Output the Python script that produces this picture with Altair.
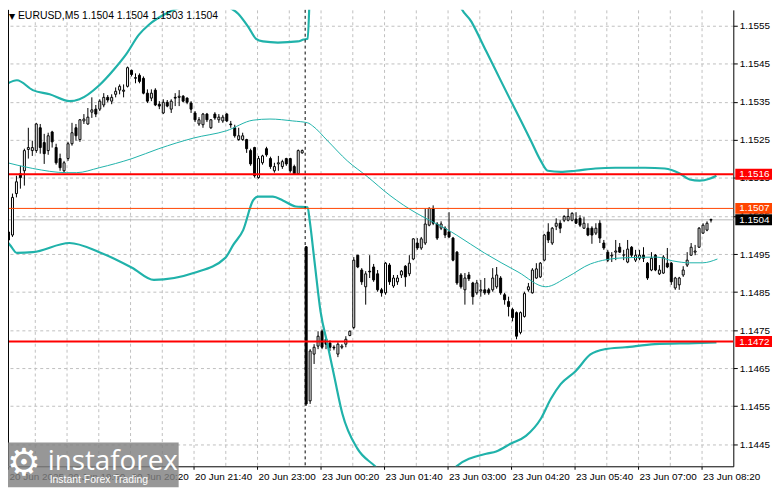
import altair as alt
import pandas as pd

# ---------------- data (EURUSD M5, bar 0 = 20 Jun 17:40) ----------------
opens = [1.15008, 1.15008, 1.15000, 1.15109, 1.15161, 1.15169, 1.15225, 1.15222, 1.15222, 1.15282,
         1.15243, 1.15222, 1.15271, 1.15230, 1.15201, 1.15169, 1.15201, 1.15240, 1.15282, 1.15251,
         1.15300, 1.15292, 1.15323, 1.15331, 1.15331, 1.15342, 1.15362, 1.15352, 1.15370, 1.15381,
         1.15378, 1.15391, 1.15433, 1.15412, 1.15420, 1.15412, 1.15373, 1.15360, 1.15381, 1.15344,
         1.15321, 1.15349, 1.15331, 1.15362, 1.15362, 1.15365, 1.15360, 1.15347, 1.15321, 1.15292,
         1.15290, 1.15318, 1.15282, 1.15318, 1.15303, 1.15300, 1.15318, 1.15292, 1.15282, 1.15251,
         1.15251, 1.15251, 1.15222, 1.15230, 1.15151, 1.15190, 1.15227, 1.15201, 1.15169, 1.15187,
         1.15180, 1.15201, 1.15201, 1.15180, 1.15161, 1.15216,
         1.14969, 1.14564, 1.14687, 1.14708, 1.14747, 1.14726, 1.14716, 1.14705, 1.14687, 1.14705,
         1.14713, 1.14736, 1.14757, 1.14947, 1.14908, 1.14864, 1.14905, 1.14916, 1.14898, 1.14856,
         1.14848, 1.14921, 1.14866, 1.14877, 1.14895, 1.14918, 1.14898, 1.14937, 1.14979, 1.14966,
         1.14979, 1.15026, 1.15070, 1.15029, 1.15018, 1.15018, 1.15008, 1.14992, 1.14955, 1.14895,
         1.14856, 1.14895, 1.14874, 1.14848, 1.14853, 1.14856, 1.14856, 1.14856, 1.14864, 1.14887,
         1.14843, 1.14825, 1.14804, 1.14796, 1.14744, 1.14786, 1.14856, 1.14848, 1.14887, 1.14890,
         1.14934, 1.15008, 1.14979, 1.15023, 1.15031, 1.15039, 1.15039, 1.15039, 1.15042, 1.15044,
         1.15018, 1.15018, 1.15018, 1.15005, 1.15031, 1.14979, 1.14955, 1.14945, 1.14955, 1.14968,
         1.14947, 1.14929, 1.14968, 1.14934, 1.14939, 1.14947, 1.14926, 1.14908, 1.14947, 1.14898,
         1.14900, 1.14926, 1.14926, 1.14861, 1.14869, 1.14895, 1.14921, 1.14947, 1.14955, 1.14968,
         1.15005, 1.15013, 1.15039]

highs = [1.15029, 1.15013, 1.15109, 1.15156, 1.15182, 1.15227, 1.15282, 1.15248, 1.15295, 1.15292,
         1.15266, 1.15269, 1.15274, 1.15240, 1.15214, 1.15195, 1.15245, 1.15295, 1.15292, 1.15305,
         1.15318, 1.15334, 1.15362, 1.15342, 1.15357, 1.15373, 1.15368, 1.15370, 1.15388, 1.15396,
         1.15396, 1.15443, 1.15435, 1.15425, 1.15425, 1.15417, 1.15383, 1.15383, 1.15386, 1.15352,
         1.15357, 1.15355, 1.15357, 1.15373, 1.15381, 1.15368, 1.15362, 1.15352, 1.15326, 1.15310,
         1.15321, 1.15321, 1.15305, 1.15323, 1.15318, 1.15316, 1.15321, 1.15300, 1.15290, 1.15282,
         1.15269, 1.15253, 1.15227, 1.15232, 1.15208, 1.15211, 1.15232, 1.15206, 1.15190, 1.15208,
         1.15198, 1.15203, 1.15203, 1.15185, 1.15225, 1.15225,
         1.14971, 1.14700, 1.14713, 1.14747, 1.14752, 1.14731, 1.14723, 1.14710, 1.14718, 1.14713,
         1.14734, 1.14749, 1.14942, 1.14947, 1.14913, 1.14905, 1.14947, 1.14924, 1.14908, 1.14861,
         1.14929, 1.14926, 1.14895, 1.14895, 1.14908, 1.14921, 1.14947, 1.14992, 1.14992, 1.14995,
         1.15070, 1.15073, 1.15078, 1.15034, 1.15036, 1.15023, 1.15060, 1.14995, 1.14958, 1.14900,
         1.14900, 1.14903, 1.14877, 1.14882, 1.14882, 1.14887, 1.14861, 1.14913, 1.14916, 1.14892,
         1.14848, 1.14838, 1.14809, 1.14799, 1.14799, 1.14851, 1.14874, 1.14913, 1.14926, 1.14929,
         1.15003, 1.15031, 1.15021, 1.15044, 1.15039, 1.15052, 1.15070, 1.15060, 1.15060, 1.15052,
         1.15047, 1.15031, 1.15023, 1.15031, 1.15039, 1.14987, 1.14961, 1.14955, 1.14987, 1.14979,
         1.14961, 1.14987, 1.14971, 1.14961, 1.14961, 1.14968, 1.14929, 1.14955, 1.14950, 1.14921,
         1.14947, 1.14966, 1.14929, 1.14890, 1.14890, 1.14918, 1.14955, 1.14979, 1.14974, 1.15021,
         1.15031, 1.15036, 1.15043]

lows = [1.14992, 1.14955, 1.14995, 1.15099, 1.15122, 1.15130, 1.15201, 1.15208, 1.15216, 1.15214,
        1.15187, 1.15211, 1.15230, 1.15185, 1.15169, 1.15164, 1.15195, 1.15235, 1.15248, 1.15245,
        1.15292, 1.15290, 1.15308, 1.15310, 1.15326, 1.15336, 1.15349, 1.15344, 1.15362, 1.15370,
        1.15362, 1.15388, 1.15417, 1.15399, 1.15399, 1.15370, 1.15347, 1.15352, 1.15339, 1.15331,
        1.15318, 1.15336, 1.15321, 1.15339, 1.15339, 1.15349, 1.15344, 1.15321, 1.15297, 1.15287,
        1.15282, 1.15297, 1.15279, 1.15303, 1.15295, 1.15295, 1.15297, 1.15282, 1.15256, 1.15248,
        1.15248, 1.15216, 1.15182, 1.15151, 1.15148, 1.15185, 1.15206, 1.15174, 1.15164, 1.15169,
        1.15174, 1.15182, 1.15164, 1.15159, 1.15159, 1.15214,
        1.14551, 1.14556, 1.14661, 1.14700, 1.14700, 1.14700, 1.14695, 1.14697, 1.14679, 1.14700,
        1.14705, 1.14734, 1.14752, 1.14913, 1.14869, 1.14817, 1.14887, 1.14877, 1.14851, 1.14838,
        1.14843, 1.14869, 1.14861, 1.14869, 1.14887, 1.14864, 1.14892, 1.14934, 1.14961, 1.14961,
        1.14974, 1.15023, 1.15026, 1.14987, 1.15013, 1.14992, 1.14992, 1.14931, 1.14869, 1.14859,
        1.14817, 1.14879, 1.14817, 1.14843, 1.14838, 1.14843, 1.14843, 1.14851, 1.14859, 1.14843,
        1.14817, 1.14786, 1.14773, 1.14726, 1.14739, 1.14783, 1.14851, 1.14846, 1.14885, 1.14887,
        1.14931, 1.14979, 1.14974, 1.15013, 1.15005, 1.15034, 1.15036, 1.15036, 1.15029, 1.15021,
        1.15016, 1.14997, 1.14977, 1.15000, 1.14979, 1.14961, 1.14929, 1.14929, 1.14934, 1.14953,
        1.14934, 1.14926, 1.14942, 1.14929, 1.14934, 1.14929, 1.14882, 1.14905, 1.14905, 1.14895,
        1.14898, 1.14913, 1.14869, 1.14856, 1.14856, 1.14890, 1.14916, 1.14945, 1.14947, 1.14966,
        1.15003, 1.15010, 1.15033]

closes = [1.14995, 1.14987, 1.15099, 1.15140, 1.15151, 1.15222, 1.15230, 1.15230, 1.15292, 1.15230,
          1.15214, 1.15261, 1.15245, 1.15190, 1.15177, 1.15190, 1.15240, 1.15269, 1.15261, 1.15303,
          1.15305, 1.15310, 1.15329, 1.15318, 1.15352, 1.15362, 1.15355, 1.15362, 1.15378, 1.15391,
          1.15381, 1.15440, 1.15422, 1.15414, 1.15404, 1.15373, 1.15352, 1.15373, 1.15342, 1.15339,
          1.15349, 1.15339, 1.15352, 1.15360, 1.15365, 1.15352, 1.15349, 1.15331, 1.15303, 1.15303,
          1.15318, 1.15303, 1.15303, 1.15308, 1.15310, 1.15310, 1.15300, 1.15290, 1.15261, 1.15261,
          1.15261, 1.15227, 1.15187, 1.15156, 1.15201, 1.15208, 1.15211, 1.15180, 1.15180, 1.15190,
          1.15193, 1.15187, 1.15169, 1.15161, 1.15222, 1.15222,
          1.14556, 1.14695, 1.14705, 1.14734, 1.14705, 1.14713, 1.14705, 1.14703, 1.14713, 1.14708,
          1.14726, 1.14747, 1.14934, 1.14916, 1.14877, 1.14898, 1.14903, 1.14882, 1.14856, 1.14848,
          1.14926, 1.14877, 1.14887, 1.14887, 1.14905, 1.14890, 1.14926, 1.14990, 1.14966, 1.14990,
          1.15029, 1.15070, 1.15031, 1.14992, 1.15029, 1.15000, 1.14995, 1.14934, 1.14874, 1.14864,
          1.14887, 1.14885, 1.14838, 1.14874, 1.14856, 1.14848, 1.14848, 1.14887, 1.14895, 1.14848,
          1.14830, 1.14812, 1.14783, 1.14734, 1.14796, 1.14846, 1.14864, 1.14908, 1.14911, 1.14926,
          1.15000, 1.14987, 1.15018, 1.15031, 1.15018, 1.15049, 1.15049, 1.15057, 1.15031, 1.15026,
          1.15031, 1.15000, 1.15000, 1.15018, 1.14992, 1.14966, 1.14934, 1.14947, 1.14958, 1.14955,
          1.14948, 1.14963, 1.14947, 1.14947, 1.14947, 1.14939, 1.14887, 1.14939, 1.14908, 1.14908,
          1.14942, 1.14916, 1.14877, 1.14887, 1.14887, 1.14908, 1.14934, 1.14968, 1.14958, 1.15018,
          1.15026, 1.15031, 1.15041]

# Bollinger bands (bar position, price)
upper_idx = [-0.25, 3.25, 7.25, 11.5, 16.5, 19, 24, 27.75, 30.75, 34, 36.5, 40.25, 44, 47.75, 50.25,
             52.75, 56, 59, 61.5, 63.5, 65.25, 69, 74, 75.5, 76.5, 77.25, 80, 95, 110, 114.5, 117.75,
             121.5, 125.25, 129, 132.75, 135.25, 137, 140.25, 144, 149, 154, 161.5, 166.5, 170.25,
             172.75, 175.25, 177.75, 179.5]
upper_val = [1.15391, 1.15407, 1.15381, 1.15370, 1.15352, 1.15357, 1.15394, 1.15436, 1.15475, 1.15527,
             1.15553, 1.15579, 1.15597, 1.15608, 1.15626, 1.15652, 1.15605, 1.15582, 1.15548, 1.15516,
             1.15509, 1.15506, 1.15509, 1.15514, 1.15516, 1.15690, 1.15900, 1.16000, 1.15850, 1.15613,
             1.15561, 1.15483, 1.15404, 1.15326, 1.15248, 1.15195, 1.15169, 1.15166, 1.15169, 1.15175,
             1.15177, 1.15177, 1.15175, 1.15162, 1.15146, 1.15143, 1.15148, 1.15156]

middle_idx = [-0.25, 7.25, 15.75, 18.25, 24, 32.25, 39, 47.75, 56, 62.75, 67, 72.75, 76.5, 77.75, 81.5,
              86.5, 91.5, 97.25, 104, 105.75, 112.75, 114, 121, 129.5, 136.5, 142, 147.75, 156, 164.5,
              168.5, 172.75, 176, 179.75]
middle_val = [1.15193, 1.15175, 1.15164, 1.15164, 1.15177, 1.15201, 1.15227, 1.15255, 1.15274, 1.15302,
              1.15305, 1.15300, 1.15295, 1.15287, 1.15248, 1.15195, 1.15154, 1.15104, 1.15057, 1.15047,
              1.15008, 1.15000, 1.14953, 1.14903, 1.14864, 1.14890, 1.14924, 1.14940, 1.14942, 1.14932,
              1.14927, 1.14927, 1.14937]

lower_idx = [-0.25, 1.5, 3.25, 7.25, 16.5, 24, 32.25, 37.75, 47.75, 55.75, 57.75, 60.25, 62.75, 64,
             67.75, 70.25, 73.5, 76.5, 77, 78.25, 79.75, 81.5, 83.25, 85.25, 89, 93.5, 99, 106.5,
             112.75, 114, 121.5, 124, 127.75, 131.5, 135.25, 137.75, 140.25, 144, 147.75, 151.5,
             156.5, 164, 174, 179.5]
lower_val = [1.14994, 1.14974, 1.14953, 1.14955, 1.14979, 1.14955, 1.14914, 1.14882, 1.14900, 1.14940,
             1.14974, 1.15013, 1.15091, 1.15101, 1.15101, 1.15091, 1.15075, 1.15073, 1.15039, 1.14929,
             1.14799, 1.14713, 1.14626, 1.14530, 1.14439, 1.14392, 1.14334, 1.14321, 1.14360, 1.14392,
             1.14425, 1.14431, 1.14452, 1.14472, 1.14517, 1.14569, 1.14608, 1.14642, 1.14686, 1.14700,
             1.14705, 1.14713, 1.14716, 1.14718]

time_labels = ["20 Jun 2025", "20 Jun 19:00", "20 Jun 20:20", "20 Jun 21:40", "20 Jun 23:00",
               "23 Jun 00:20", "23 Jun 01:40", "23 Jun 03:00", "23 Jun 04:20", "23 Jun 05:40",
               "23 Jun 07:00", "23 Jun 08:20"]
price_ticks = [1.1445, 1.1455, 1.1465, 1.1475, 1.1485, 1.1495, 1.1505, 1.1515, 1.1525, 1.1535,
               1.1545, 1.1555]

level_prices = [1.1516, 1.1507, 1.1472]
level_colors = ["#ff0000", "#ff4500", "#ff0000"]
level_widths = [2, 1, 2]
last_price = 1.1504
box_prices = [1.1516, 1.1507, 1.1504, 1.1472]
box_colors = ["#ff0000", "#ff4500", "#000000", "#ff0000"]
separator_bar = 75.875
header_text = "EURUSD,M5  1.1504 1.1504 1.1503 1.1504"

# ---------------- chart ----------------
FONT = "Liberation Sans"
TEAL = "#20b2aa"
GRID = "#c0c0c0"
PLOT_W, PLOT_H = 731, 460

n = min(len(opens), len(highs), len(lows), len(closes))
candles = pd.DataFrame({"bar": list(range(n)), "open": opens[:n], "high": highs[:n],
                        "low": lows[:n], "close": closes[:n]})
candles["x_lo"] = candles["bar"] - 0.125
candles["x_hi"] = candles["bar"] + 0.375
candles["x_mid"] = candles["bar"] + 0.125

bands = pd.concat([
    pd.DataFrame({"bar": upper_idx, "v": upper_val, "band": "upper"}),
    pd.DataFrame({"bar": lower_idx, "v": lower_val, "band": "lower"}),
], ignore_index=True)
mid = pd.DataFrame({"bar": middle_idx, "v": middle_val})

xscale = alt.Scale(domain=[1.0, 183.75], nice=False, zero=False)
yscale = alt.Scale(domain=[1.14392, 1.15592], nice=False, zero=False)

grid_vals = [1.0] + [8 * k - 0.25 for k in range(1, 23)]
lab_arr = [time_labels[k // 2] if k % 2 == 0 else "" for k in range(23)]
label_expr = "[" + ",".join("'" + s + "'" for s in lab_arr) + "][round((datum.value + 0.25) / 8)]"

xaxis = alt.Axis(values=grid_vals, labelExpr=label_expr, title=None, grid=True, gridColor=GRID,
                 gridDash=[3, 3], gridWidth=1, domainColor="black", domainWidth=1,
                 tickColor="black", tickSize=3,
                 tickOpacity={"condition": {"test": "round((datum.value + 0.25) / 8) % 2 == 0",
                                            "value": 1}, "value": 0},
                 labelFont=FONT, labelFontSize=10, labelColor="black", labelAlign="left",
                 labelBaseline="top", labelPadding=2, labelOffset=1, labelOverlap=False,
                 labelFlush=False, labelBound=False, zindex=0)
yaxis = alt.Axis(values=price_ticks, format=".4f", orient="right", title=None, grid=True,
                 gridColor=GRID, gridDash=[3, 3], gridWidth=1, domainColor="black",
                 tickColor="black", tickSize=4, labelFont=FONT, labelFontSize=10,
                 labelColor="black", labelPadding=2, labelOverlap=False, labelFlush=False,
                 labelBound=False, zindex=0)


def X(f):
    return alt.X(f, type="quantitative", scale=xscale, axis=xaxis)


def Y(f):
    return alt.Y(f, type="quantitative", scale=yscale, axis=yaxis)


one = pd.DataFrame({"a": [0]})

price_line = alt.Chart(pd.DataFrame({"p": [last_price]})).mark_rule(
    color="#b8b8b8", strokeWidth=1).encode(y=Y("p"))

wicks = alt.Chart(candles).mark_rule(color="black", strokeWidth=1, clip=True).encode(
    x=X("x_mid"), y=Y("low"), y2="high")

bodies = alt.Chart(candles).mark_rect(stroke="black", strokeWidth=1, clip=True).encode(
    x=X("x_lo"), x2="x_hi", y=Y("open"), y2="close",
    fill=alt.condition("datum.close >= datum.open", alt.value("white"), alt.value("black")))

outer = alt.Chart(bands).mark_line(color=TEAL, strokeWidth=2.2, clip=True,
                                   interpolate="monotone").encode(
    x=X("bar"), y=Y("v"), detail="band:N")

middle = alt.Chart(mid).mark_line(color=TEAL, strokeWidth=1, clip=True,
                                  interpolate="monotone").encode(x=X("bar"), y=Y("v"))

separator = alt.Chart(pd.DataFrame({"s": [separator_bar]})).mark_rule(
    color="black", strokeWidth=1, strokeDash=[3, 3]).encode(x=X("s"))

levels = alt.Chart(pd.DataFrame({"p": level_prices, "col": level_colors,
                                 "w": level_widths})).mark_rule().encode(
    y=Y("p"), color=alt.Color("col:N", scale=None),
    strokeWidth=alt.StrokeWidth("w:Q", scale=None))

left_border = alt.Chart(one).mark_rule(color="black", strokeWidth=1).encode(
    x=alt.value(0.5), y=alt.value(0), y2=alt.value(PLOT_H))

box_df = pd.DataFrame({"p": box_prices, "col": box_colors,
                       "lab": ["%.4f" % v for v in box_prices]})
boxes = alt.Chart(box_df).mark_rect(yOffset=-5.5, y2Offset=5.5).encode(
    x=alt.value(PLOT_W + 2), x2=alt.value(PLOT_W + 39), y=Y("p"), y2="p",
    fill=alt.Color("col:N", scale=None))
box_text = alt.Chart(box_df).mark_text(align="left", baseline="middle", color="white",
                                       font=FONT, fontSize=10).encode(
    x=alt.value(PLOT_W + 6), y=Y("p"), text="lab:N")

tri = alt.Chart(one).mark_text(text="▼", font="DejaVu Sans", fontSize=8, color="black",
                               align="left", baseline="alphabetic").encode(
    x=alt.value(1), y=alt.value(9))
header = alt.Chart(one).mark_text(text=header_text, font=FONT, fontSize=10.5, color="black",
                                  align="left", baseline="alphabetic").encode(
    x=alt.value(10), y=alt.value(9))

wm_box = alt.Chart(one).mark_rect(fill="#808080", opacity=0.82).encode(
    x=alt.value(0), x2=alt.value(172), y=alt.value(436), y2=alt.value(481))
wm_gear = alt.Chart(one).mark_text(text="⚙", font="DejaVu Sans", fontSize=38, color="white",
                                   align="center", baseline="middle").encode(
    x=alt.value(16), y=alt.value(458))
wm_name = alt.Chart(one).mark_text(text="instaforex", font="Open Sans", fontSize=28,
                                   color="white", align="left", baseline="alphabetic").encode(
    x=alt.value(40), y=alt.value(464))
wm_tag = alt.Chart(one).mark_text(text="Instant Forex Trading", font=FONT, fontSize=10.5,
                                  color="white", align="left", baseline="alphabetic").encode(
    x=alt.value(42), y=alt.value(477))

chart = alt.layer(
    price_line, wicks, bodies, outer, middle, separator, levels, left_border,
    boxes, box_text, tri, header, wm_box, wm_gear, wm_name, wm_tag
).properties(
    width=PLOT_W, height=PLOT_H,
    autosize=alt.AutoSizeParams(type="none"),
    padding={"left": 0, "top": 0, "right": 40, "bottom": 21},
    background="white",
).configure_view(strokeWidth=0)

chart.save("out.html", embed_options={"renderer": "svg", "actions": False})
